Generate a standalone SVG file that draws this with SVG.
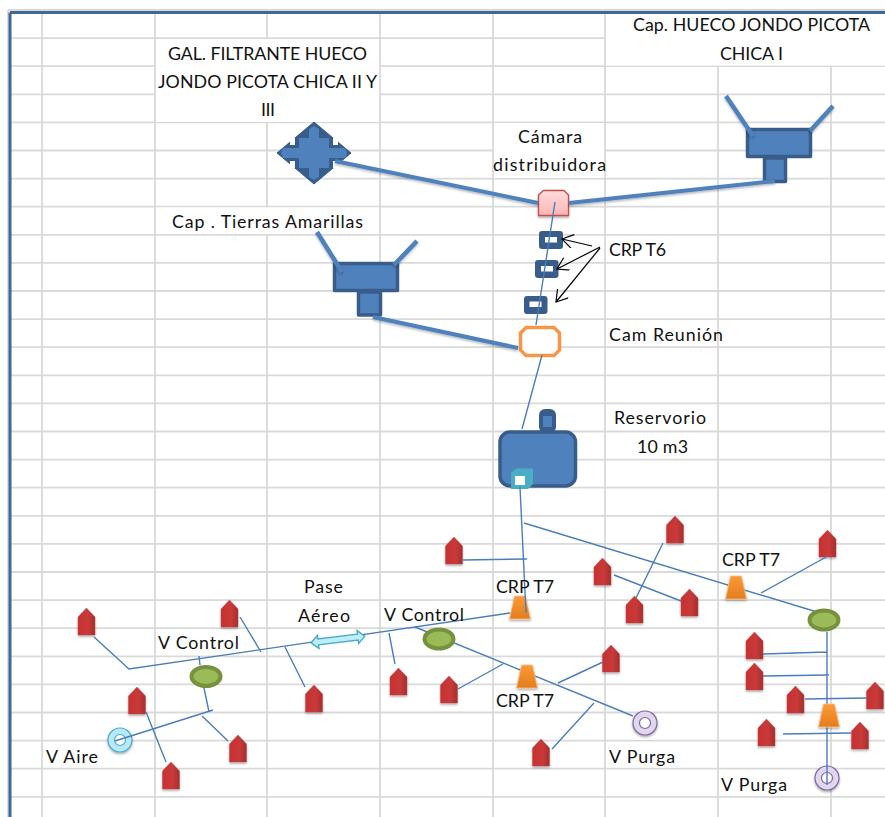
<svg xmlns="http://www.w3.org/2000/svg" width="885" height="817" viewBox="0 0 885 817">
<style>
.g{stroke:#d9d9d9;stroke-width:1.8;fill:none}
.th{stroke:#4a7ebb;stroke-width:1.4;fill:none}
.tk{stroke:#4f81bd;stroke-width:4;fill:none;filter:url(#sl)}
.w{stroke:#4f81bd;stroke-width:4.5;fill:none;filter:url(#sl)}
.b{fill:#4f81bd;stroke:#385d8a;stroke-width:3.5;stroke-linejoin:round}
.a{stroke:#000;stroke-width:1.2;fill:none;marker-end:url(#ah)}
.t{font-family:"Lato","Liberation Sans",sans-serif;font-size:17.8px;fill:#111}
.tr{fill:url(#og);stroke:#fac090;stroke-width:.8;filter:url(#sh)}
.el{fill:#9bbb59;stroke:#76923c;stroke-width:4}
.crp{fill:#385d8a}
.wh{fill:#fff}
.r1{fill:#fff;stroke:#8064a2;stroke-width:1.2}
.r2{fill:#e0d6ee;stroke:#8064a2;stroke-width:1.200;filter:url(#sh)}
</style>
<defs>
<linearGradient id="rg"><stop offset="0" stop-color="#c9302f"/><stop offset=".6" stop-color="#c83a39"/><stop offset="1" stop-color="#a52f2d"/></linearGradient>
<linearGradient id="og" x1="0" y1="0" x2="0" y2="1"><stop offset="0" stop-color="#fb9a38"/><stop offset="1" stop-color="#e37d1c"/></linearGradient>
<linearGradient id="pk" x1="0" y1="0" x2="0" y2="1"><stop offset="0" stop-color="#ffdcdc"/><stop offset="1" stop-color="#ffb5b5"/></linearGradient>
<filter id="sh" x="-30%" y="-30%" width="160%" height="170%"><feDropShadow dx="0" dy="1.500" stdDeviation="1" flood-color="#000" flood-opacity=".35"/></filter>
<filter id="sl" filterUnits="userSpaceOnUse" x="0" y="0" width="885" height="817"><feDropShadow dx="0" dy="1.500" stdDeviation="1" flood-color="#000" flood-opacity=".3"/></filter>
<marker id="ah" markerUnits="userSpaceOnUse" markerWidth="16" markerHeight="16" refX="14" refY="7" orient="auto"><path d="M3,0 L14,7 L3,14" fill="none" stroke="#000" stroke-width="1.200"/></marker>
<path id="h" d="M-8.500,27 V9 L0,0 L8.500,9 V27 Z" fill="url(#rg)" stroke="#b9494a" stroke-width=".4" filter="url(#sh)"/>
<polygon id="tz" points="-5.500,0 5.500,0 10.500,23 -10.500,23" class="tr"/>
</defs>

<rect width="885" height="817" fill="#fff"/>
<g id="grid">
<path class="g" d="M8,10H885M8,10V817"/>
<path class="g" d="M10,38.100H605M10,66.200H885M10,94.300H885M10,122.400H885M10,150.500H885M10,178.600H885M10,206.700H885M10,234.800H885M10,262.900H885M10,291H885M10,319.100H885M10,347.200H885M10,375.300H885M10,403.400H885M10,431.500H885M10,459.600H885M10,487.700H885M10,515.800H885M10,543.900H885M10,572H885M10,600.100H885M10,628.200H885M10,656.300H885M10,684.400H885M10,712.500H885M10,740.600H885M10,768.700H885M10,796.800H885"/>
<path class="g" d="M42,14V817M155,14V817M267,14V817M380,14V817M493,14V817M605,14V817M718,14V817M831,14V817"/>
<rect class="wh" x="156" y="39" width="223" height="83"/>
<rect class="wh" x="606" y="14" width="279" height="51.500"/>
<rect class="wh" x="494" y="123" width="110" height="55"/>
<rect class="wh" x="156" y="207.500" width="223" height="26.500"/>
<path d="M10,12.500H885M10,12.500V817" stroke="#3f6797" stroke-width="3" fill="none"/>
</g>

<g id="gal-filtrante" transform="translate(314,153)">
<path d="M0,-31L37,0L0,31L-37,0Z" fill="#385d8a" stroke="#385d8a" stroke-width="1" stroke-linejoin="round"/>
<path d="M19,-15H24V-8H19ZM-24,-15H-19V-8H-24ZM19,8H24V15H19ZM-24,8H-19V15H-24Z" fill="#fff"/>
<path d="M-15,-15H-5V-24L0,-27L5,-24V-15H15V-5H31L33,0L31,5H15V15H5V24L0,27L-5,24V15H-15V5H-31L-33,0L-31,-5H-15Z" fill="#4f81bd"/>
</g>
<g id="cap-hueco">
<rect class="b" x="747.500" y="129.500" width="63" height="27"/>
<rect class="b" x="764.500" y="158" width="21" height="23.500"/>
<path class="w" d="M726,96L753,136M833,106L810,131"/>
</g>
<g id="cap-tierras">
<rect class="b" x="334.500" y="263.500" width="63" height="27"/>
<rect class="b" x="358.500" y="292" width="22" height="23"/>
<path class="w" d="M317,232L342,272M417,241L394,265"/>
</g>
<g id="camara-dist"><path d="M538.500,215.500V195L543.500,190.500H564L568.500,195V215.500Z" fill="url(#pk)" stroke="#c0504d" stroke-width="1.300" filter="url(#sh)"/></g>
<g id="crp-t6-1"><rect class="crp" x="539" y="231" width="24" height="18" rx="3"/><rect class="wh" x="545" y="237" width="12" height="5.500"/></g>
<g id="crp-t6-2"><rect class="crp" x="535" y="260" width="23.500" height="18" rx="3"/><rect class="wh" x="541" y="266" width="12" height="5.500"/></g>
<g id="crp-t6-3"><rect class="crp" x="524" y="296" width="23.500" height="18" rx="3"/><rect class="wh" x="529.500" y="301.500" width="12" height="5.500"/></g>
<g id="cam-reunion"><path d="M526,327.500H554L559.500,333V350L554,355.500H526L520.500,350V333Z" fill="#fff" stroke="#f79646" stroke-width="3.500"/></g>
<g id="reservorio">
<rect x="539" y="409" width="17" height="24" rx="6" fill="#385d8a"/>
<rect x="543" y="416" width="9" height="11" fill="#4f81bd"/>
<rect class="b" x="500" y="432" width="75.500" height="54" rx="10"/>
<path d="M516,468.500H533V484L528,489H511V473Z" fill="#4bacc6"/>
<rect class="wh" x="515" y="476" width="10" height="9"/>
</g>
<g id="v-aire"><circle cx="120" cy="740" r="12" fill="#b7e9f9" stroke="#4bacc6" stroke-width="1.200" filter="url(#sh)"/><circle cx="120" cy="740" r="5.500" fill="#fff" stroke="#4bacc6" stroke-width="1.200"/></g>
<g id="v-purga-1"><circle class="r2" cx="645" cy="723" r="12"/><circle class="r1" cx="645" cy="723" r="5.500"/></g>
<g id="v-purga-2"><circle class="r2" cx="827" cy="778" r="12"/><circle class="r1" cx="827" cy="778" r="5.500"/></g>
<g id="crp-t7-a"><use href="#tz" x="520" y="596"/></g>
<g id="casas">
<g id="h1"><use href="#h" x="86.500" y="608"/></g>
<g id="h2"><use href="#h" x="229.500" y="600"/></g>
<g id="h3"><use href="#h" x="137" y="687"/></g>
<g id="h4"><use href="#h" x="171" y="762"/></g>
<g id="h5"><use href="#h" x="238" y="735"/></g>
<g id="h6"><use href="#h" x="314" y="685"/></g>
<g id="h7"><use href="#h" x="398.500" y="668"/></g>
<g id="h8"><use href="#h" x="449" y="676"/></g>
<g id="h9"><use href="#h" x="611" y="645"/></g>
<g id="h10"><use href="#h" x="541" y="739"/></g>
<g id="h11"><use href="#h" x="454" y="537"/></g>
<g id="h12"><use href="#h" x="602.500" y="558"/></g>
<g id="h13"><use href="#h" x="675" y="516"/></g>
<g id="h14"><use href="#h" x="634.500" y="596"/></g>
<g id="h15"><use href="#h" x="689.500" y="589"/></g>
<g id="h16"><use href="#h" x="827.500" y="530"/></g>
<g id="h17"><use href="#h" x="754.500" y="632"/></g>
<g id="h18"><use href="#h" x="754.500" y="663"/></g>
<g id="h19"><use href="#h" x="795.500" y="686"/></g>
<g id="h20"><use href="#h" x="875" y="682"/></g>
<g id="h21"><use href="#h" x="766.500" y="719"/></g>
<g id="h22"><use href="#h" x="860" y="722"/></g>
</g>

<g id="connectors">
<path class="tk" d="M335,161L538,203"/>
<path class="tk" d="M569,203L775,181"/>
<path class="tk" d="M373,317L518,348"/>
<path class="th" d="M555,202L536,325M542,355L522,429M520,487L526,613"/>
<path class="th" d="M463,560L527,559M524,523L817,612M614,575L681,601M663,543L636,598M761,593L828,556"/>
<path class="th" d="M510,613L129,669L94,637M240,617L261,652M285,647L305,687M199,656L200,665M204,688L209,712M115,741L213,710M202,716L228,741M146,712L166,762"/>
<path class="th" d="M389,633L395,664M415,627L633,716M458,689L503,664M558,683L603,662M594,703L552,749"/>
<path class="th" d="M827,632L827,785M763,654L827,652M763,676L829,675M805,699L867,698M783,734L851,733"/>
<path class="a" d="M592,246L562,239"/>
<path class="a" d="M600,247L557,269"/>
<path class="a" d="M600,248L556,302"/>
</g>

<g id="pase-aereo"><path transform="translate(338,639.500) rotate(-7)" d="M-27,0L-20,-6.500V-3H20V-6.500L27,0L20,6.500V3H-20V6.500Z" fill="#bfeefb" stroke="#4bacc6" stroke-width="1.400"/></g>
<g id="v-control-1"><ellipse class="el" cx="206" cy="676.500" rx="14.500" ry="9.500"/></g>
<g id="v-control-2"><ellipse class="el" cx="439" cy="639" rx="14.500" ry="9.500"/></g>
<g id="v-control-3"><ellipse class="el" cx="824" cy="620" rx="14.500" ry="9.500"/></g>
<g id="crp-t7-b"><use href="#tz" x="736" y="576"/></g>
<g id="crp-t7-c"><use href="#tz" x="527" y="665"/></g>
<g id="crp-t7-d"><use href="#tz" x="829" y="704"/></g>

<g id="labels">
<text class="t" x="168" y="60" textLength="199">GAL. FILTRANTE HUECO</text>
<text class="t" x="158" y="88" textLength="219">JONDO PICOTA CHICA II Y</text>
<text class="t" x="261" y="116" textLength="14">III</text>
<text class="t" x="633" y="31" textLength="237">Cap. HUECO JONDO PICOTA</text>
<text class="t" x="720" y="60" textLength="63">CHICA I</text>
<text class="t" x="518" y="143" textLength="64">Cámara</text>
<text class="t" x="493" y="171" textLength="113">distribuidora</text>
<text class="t" x="172" y="228" textLength="191">Cap . Tierras Amarillas</text>
<text class="t" x="609" y="256" textLength="57">CRP T6</text>
<text class="t" x="609" y="341" textLength="114">Cam Reunión</text>
<text class="t" x="614" y="424" textLength="92">Reservorio</text>
<text class="t" x="637" y="453" textLength="51">10 m3</text>
<text class="t" x="722" y="566" textLength="58">CRP T7</text>
<text class="t" x="496" y="593" textLength="58">CRP T7</text>
<text class="t" x="304" y="593" textLength="39">Pase</text>
<text class="t" x="298" y="622" textLength="52">Aéreo</text>
<text class="t" x="384" y="621" textLength="80">V Control</text>
<text class="t" x="158" y="649" textLength="81">V Control</text>
<text class="t" x="496" y="707" textLength="58">CRP T7</text>
<text class="t" x="46" y="763" textLength="52">V Aire</text>
<text class="t" x="609" y="763" textLength="66">V Purga</text>
<text class="t" x="721" y="791" textLength="66">V Purga</text>
</g>
</svg>
